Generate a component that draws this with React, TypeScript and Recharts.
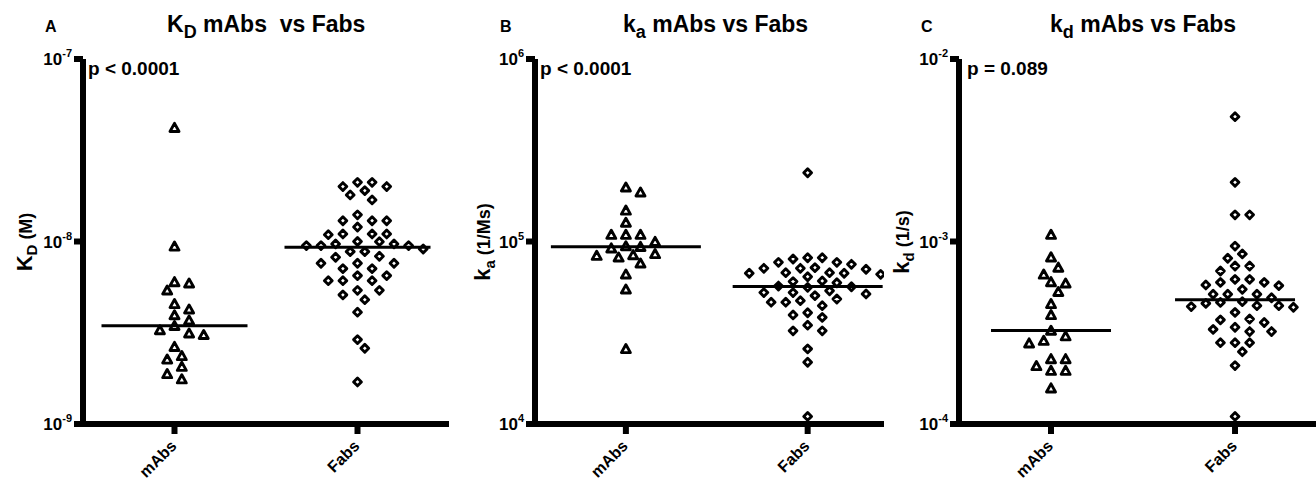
import { ScatterChart, Scatter, XAxis, YAxis, ReferenceLine } from 'recharts'

const FONT = '"Liberation Sans", Arial, Helvetica, sans-serif'
const CATEGORIES = ['mAbs', 'Fabs']

// A: equilibrium constant K_D (M)
const KD_MABS = [4.2e-8, 9.4e-9, 6.0e-9, 5.9e-9, 5.4e-9, 4.55e-9, 4.25e-9, 3.95e-9, 3.7e-9, 3.45e-9, 3.27e-9, 3.14e-9, 3.08e-9, 2.65e-9, 2.36e-9, 2.26e-9, 2.06e-9, 1.88e-9, 1.76e-9]
const KD_FABS = [2.11e-8, 2.11e-8, 2.0e-8, 2.0e-8, 1.9e-8, 1.8e-8, 1.69e-8, 1.4e-8, 1.3e-8, 1.3e-8, 1.3e-8, 1.2e-8, 1.1e-8, 1.1e-8, 1.1e-8, 1.09e-8, 1.0e-8, 9.98e-9, 9.7e-9, 9.7e-9, 9.5e-9, 9.5e-9, 9.5e-9, 9.1e-9, 8.8e-9, 8.8e-9, 8.3e-9, 8.2e-9, 7.6e-9, 7.6e-9, 7.6e-9, 7.1e-9, 7.1e-9, 6.5e-9, 6.5e-9, 6.1e-9, 6.1e-9, 6.1e-9, 5.4e-9, 5.4e-9, 5.1e-9, 4.8e-9, 4.1e-9, 2.9e-9, 2.6e-9, 1.7e-9]

// B: association rate k_a (1/Ms)
const KA_MABS = [1.98e5, 1.86e5, 1.48e5, 1.27e5, 1.09e5, 1.09e5, 1.09e5, 9.97e4, 9.44e4, 9.36e4, 9.18e4, 8.55e4, 8.43e4, 8.36e4, 8.19e4, 7.59e4, 6.61e4, 5.47e4, 2.58e4]
const KA_FABS = [2.38e5, 8.15e4, 8.15e4, 8.02e4, 7.69e4, 7.69e4, 7.5e4, 7.19e4, 7.05e4, 7.13e4, 7.13e4, 6.75e4, 6.75e4, 6.7e4, 6.7e4, 6.61e4, 6.41e4, 6.08e4, 6.03e4, 5.94e4, 5.7e4, 5.61e4, 5.65e4, 5.37e4, 5.25e4, 5.25e4, 5.16e4, 5.05e4, 4.84e4, 4.74e4, 4.65e4, 4.65e4, 4.45e4, 4.07e4, 3.96e4, 3.84e4, 3.48e4, 3.24e4, 3.24e4, 2.58e4, 2.18e4, 1.1e4]

// C: dissociation rate k_d (1/s)
const KOFF_MABS = [1.09e-3, 8.2e-4, 7.2e-4, 6.6e-4, 6.0e-4, 5.9e-4, 5.3e-4, 4.55e-4, 3.96e-4, 3.25e-4, 3.03e-4, 2.86e-4, 2.77e-4, 2.27e-4, 2.27e-4, 2.08e-4, 1.96e-4, 1.96e-4, 1.57e-4]
const KOFF_FABS = [4.83e-3, 2.11e-3, 1.4e-3, 1.4e-3, 9.44e-4, 8.55e-4, 8.1e-4, 7.34e-4, 7.34e-4, 6.89e-4, 6.2e-4, 6.2e-4, 5.97e-4, 5.97e-4, 5.78e-4, 5.73e-4, 5.47e-4, 5.14e-4, 5.14e-4, 5.14e-4, 4.92e-4, 4.68e-4, 4.64e-4, 4.58e-4, 4.45e-4, 4.45e-4, 4.4e-4, 4.36e-4, 4.09e-4, 3.76e-4, 3.72e-4, 3.6e-4, 3.39e-4, 3.3e-4, 3.21e-4, 3.21e-4, 2.79e-4, 2.79e-4, 2.79e-4, 2.49e-4, 2.09e-4, 1.1e-4]

const W = 1316
const H = 482
const PLOT_TOP = 59
const PLOT_BOTTOM = 424
const Y_AXIS_W = 60
const X_AXIS_H = 50
const STEP = 7.3 // horizontal swarm step, px
const MIN_GAP = 10.5 // min distance between symbol centres, px
const AXIS_W = 6
const Y_TICK = 9
const X_TICK = 10

const median = (arr: number[]) => {
  const s = [...arr].sort((a, b) => a - b)
  const m = Math.floor(s.length / 2)
  return s.length % 2 ? s[m] : (s[m - 1] + s[m]) / 2
}

// simple beeswarm: place each point at the closest free slot around its category
function swarm(values: number[], center: number, yDomain: number[], unitPx: number) {
  const lo = Math.log10(yDomain[0])
  const hi = Math.log10(yDomain[1])
  const toPx = (v: number) => ((hi - Math.log10(v)) / (hi - lo)) * (PLOT_BOTTOM - PLOT_TOP)
  const pts = values.map((v) => ({ v, py: toPx(v) })).sort((a, b) => a.py - b.py)
  const placed: { px: number; py: number }[] = []
  return pts.map((p) => {
    let off = 0
    for (let k = 0; k < 40; k++) {
      const n = k === 0 ? 0 : k % 2 ? (k + 1) / 2 : -k / 2
      const px = n * STEP
      const hit = placed.some((q) => (q.px - px) ** 2 + (q.py - p.py) ** 2 < MIN_GAP * MIN_GAP)
      if (!hit) {
        off = px
        break
      }
    }
    placed.push({ px: off, py: p.py })
    return { x: center + off / unitPx, y: p.v }
  })
}

const Triangle = (props: any) => {
  const { cx, cy } = props
  return (
    <path
      d={`M${cx},${cy - 4.4} L${cx + 4.5},${cy + 3.7} L${cx - 4.5},${cy + 3.7} Z`}
      fill="none"
      stroke="#000"
      strokeWidth={2.9}
      strokeLinejoin="round"
    />
  )
}

const Diamond = (props: any) => {
  const { cx, cy } = props
  return (
    <path
      d={`M${cx},${cy - 3.9} L${cx + 3.9},${cy} L${cx},${cy + 3.9} L${cx - 3.9},${cy} Z`}
      fill="none"
      stroke="#000"
      strokeWidth={2.9}
      strokeLinejoin="round"
    />
  )
}

const PowTick = (props: any) => {
  const { y, payload, tickX } = props
  const e = Math.round(Math.log10(payload.value))
  return (
    <text x={tickX - Y_TICK - 2} y={y + 6} textAnchor="end" fontFamily={FONT} fontWeight="bold" fontSize={17} fill="#000">
      10
      <tspan dy={-8} fontSize={11}>
        {e}
      </tspan>
    </text>
  )
}

const CatTick = (props: any) => {
  const { x, tickY, payload } = props
  return (
    <text
      transform={`translate(${x + 3},${tickY + X_TICK + 13}) rotate(-45)`}
      textAnchor="end"
      fontFamily={FONT}
      fontWeight="bold"
      fontSize={16}
      fill="#000"
    >
      {CATEGORIES[payload.value]}
    </text>
  )
}

const PANELS = [
  { id: 'A', plotLeft: 83, plotRight: 449, xDomain: [-0.5, 1.5], yDomain: [1e-9, 1e-7], mabs: KD_MABS, fabs: KD_FABS, half: 73 },
  { id: 'B', plotLeft: 535, plotRight: 884, xDomain: [-0.5, 1.42], yDomain: [1e4, 1e6], mabs: KA_MABS, fabs: KA_FABS, half: 75 },
  { id: 'C', plotLeft: 959, plotRight: 1316, xDomain: [-0.5, 1.44], yDomain: [1e-4, 1e-2], mabs: KOFF_MABS, fabs: KOFF_FABS, half: 60 },
]

function Panel({ p }: { p: (typeof PANELS)[number] }) {
  const unitPx = (p.plotRight - p.plotLeft) / (p.xDomain[1] - p.xDomain[0])
  const decadePx = (PLOT_BOTTOM - PLOT_TOP) / 2
  const mabsPts = swarm(p.mabs, 0, p.yDomain, unitPx)
  const fabsPts = swarm(p.fabs, 1, p.yDomain, unitPx)
  const half = p.half / unitPx
  const medM = median(p.mabs)
  const medF = median(p.fabs)
  const lo = Math.log10(p.yDomain[0])
  const ticks = [0, 1, 2].map((i) => Math.pow(10, lo + i))
  const x0 = p.xDomain[0]
  const y0 = p.yDomain[0]
  const tickLeft = x0 - Y_TICK / unitPx
  const belowAxis = y0 / Math.pow(10, X_TICK / decadePx)

  return (
    <div style={{ position: 'absolute', left: 0, top: 0 }}>
      <ScatterChart
        width={W}
        height={H}
        margin={{ top: PLOT_TOP, left: p.plotLeft - Y_AXIS_W, right: W - p.plotRight, bottom: H - PLOT_BOTTOM - X_AXIS_H }}
      >
        <XAxis
          type="number"
          dataKey="x"
          domain={p.xDomain}
          allowDataOverflow
          ticks={[0, 1]}
          interval={0}
          height={X_AXIS_H}
          axisLine={false}
          tickLine={false}
          tick={<CatTick tickY={PLOT_BOTTOM} />}
        />
        <YAxis
          type="number"
          dataKey="y"
          scale="log"
          domain={p.yDomain}
          allowDataOverflow
          ticks={ticks}
          interval={0}
          width={Y_AXIS_W}
          axisLine={false}
          tickLine={false}
          tick={<PowTick tickX={p.plotLeft} />}
        />
        {/* axes drawn as thick reference lines */}
        <ReferenceLine x={x0} stroke="#000" strokeWidth={AXIS_W} ifOverflow="visible" />
        <ReferenceLine y={y0} stroke="#000" strokeWidth={AXIS_W} ifOverflow="visible" />
        {ticks.map((t) => (
          <ReferenceLine
            key={t}
            segment={[{ x: tickLeft, y: t }, { x: x0, y: t }]}
            stroke="#000"
            strokeWidth={AXIS_W}
            ifOverflow="visible"
          />
        ))}
        {[0, 1].map((c) => (
          <ReferenceLine
            key={c}
            segment={[{ x: c, y: y0 }, { x: c, y: belowAxis }]}
            stroke="#000"
            strokeWidth={AXIS_W}
            ifOverflow="visible"
          />
        ))}
        <ReferenceLine segment={[{ x: -half, y: medM }, { x: half, y: medM }]} stroke="#000" strokeWidth={3} />
        <ReferenceLine segment={[{ x: 1 - half, y: medF }, { x: 1 + half, y: medF }]} stroke="#000" strokeWidth={3} />
        <Scatter data={mabsPts} shape={<Triangle />} isAnimationActive={false} />
        <Scatter data={fabsPts} shape={<Diamond />} isAnimationActive={false} />
      </ScatterChart>
    </div>
  )
}

const bold = { fontFamily: FONT, fontWeight: 'bold' as const, fill: '#000' }

export default function App() {
  return (
    <div style={{ position: 'absolute', left: 0, top: 0, width: W, height: H, background: '#fff' }}>
      {PANELS.map((p) => (
        <Panel key={p.id} p={p} />
      ))}
      <svg width={W} height={H} style={{ position: 'absolute', left: 0, top: 0, pointerEvents: 'none' }}>
        {/* panel letters */}
        <text x={45} y={32} fontSize={16} {...bold}>A</text>
        <text x={500} y={32} fontSize={16} {...bold}>B</text>
        <text x={921} y={32} fontSize={16} {...bold}>C</text>

        {/* titles */}
        <text x={167} y={32} fontSize={23} {...bold}>
          K<tspan fontSize={18} dy={6}>D</tspan>
          <tspan dy={-6}>{'\u00a0mAbs\u00a0\u00a0vs Fabs'}</tspan>
        </text>
        <text x={623} y={32} fontSize={23} {...bold}>
          k<tspan fontSize={18} dy={6}>a</tspan>
          <tspan dy={-6}>{'\u00a0mAbs vs Fabs'}</tspan>
        </text>
        <text x={1050} y={32} fontSize={23} {...bold}>
          k<tspan fontSize={18} dy={6}>d</tspan>
          <tspan dy={-6}>{'\u00a0mAbs vs Fabs'}</tspan>
        </text>

        {/* p values */}
        <text x={88} y={75} fontSize={19} {...bold}>p &lt; 0.0001</text>
        <text x={540} y={75} fontSize={19} {...bold}>p &lt; 0.0001</text>
        <text x={967} y={75} fontSize={19} {...bold}>p = 0.089</text>

        {/* y axis titles */}
        <text transform="translate(32,242) rotate(-90)" textAnchor="middle" fontSize={22} {...bold}>
          K<tspan fontSize={15} dy={5}>D</tspan>
          <tspan dy={-5} fontSize={18}>{'\u00a0(M)'}</tspan>
        </text>
        <text transform="translate(490,242) rotate(-90)" textAnchor="middle" fontSize={22} {...bold}>
          k<tspan fontSize={15} dy={5}>a</tspan>
          <tspan dy={-5} fontSize={18}>{'\u00a0(1/Ms)'}</tspan>
        </text>
        <text transform="translate(909,242) rotate(-90)" textAnchor="middle" fontSize={22} {...bold}>
          k<tspan fontSize={15} dy={5}>d</tspan>
          <tspan dy={-5} fontSize={18}>{'\u00a0(1/s)'}</tspan>
        </text>
      </svg>
    </div>
  )
}
